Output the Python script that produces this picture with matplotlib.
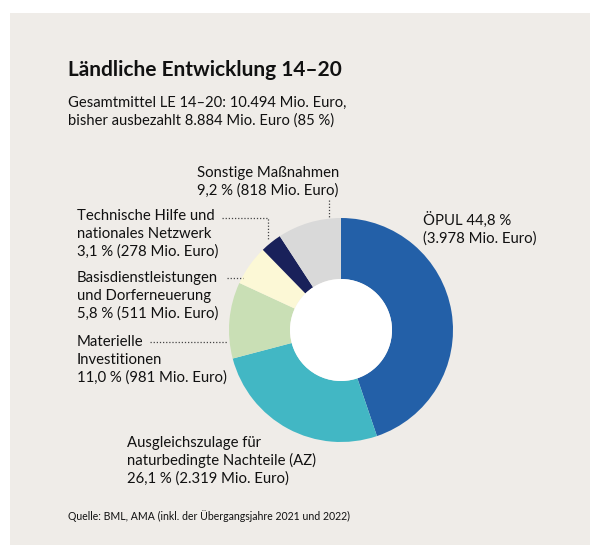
import matplotlib.pyplot as plt
from matplotlib.lines import Line2D
from matplotlib.patches import Rectangle

plt.rcParams['font.family'] = ['Lato', 'DejaVu Sans']

# data, clockwise from 12 o'clock
names = ['ÖPUL', 'Ausgleichszulage für naturbedingte Nachteile (AZ)', 'Materielle Investitionen',
         'Basisdienstleistungen und Dorferneuerung', 'Technische Hilfe und nationales Netzwerk',
         'Sonstige Maßnahmen']
shares = [44.8, 26.1, 11.0, 5.8, 3.1, 9.2]
mio_euro = ['3.978', '2.319', '981', '511', '278', '818']
colors = ['#2360a8', '#42b7c4', '#c9dfb5', '#fcf8d6', '#19215a', '#d9d9d9']

# label lines as they are broken in the original
label_lines = [
    ['ÖPUL 44,8 %', '(3.978 Mio. Euro)'],
    ['Ausgleichszulage für', 'naturbedingte Nachteile (AZ)', '26,1 % (2.319 Mio. Euro)'],
    ['Materielle', 'Investitionen', '11,0 % (981 Mio. Euro)'],
    ['Basisdienstleistungen', 'und Dorferneuerung', '5,8 % (511 Mio. Euro)'],
    ['Technische Hilfe und', 'nationales Netzwerk', '3,1 % (278 Mio. Euro)'],
    ['Sonstige Maßnahmen', '9,2 % (818 Mio. Euro)'],
]
# first-line baseline position (px)
label_pos = [(423, 225), (127, 447), (77, 346), (77, 282), (77, 220), (197, 177)]

W, H = 590, 545
fig = plt.figure(figsize=(W / 100, H / 100), dpi=100)
fig.patch.set_facecolor('white')


def fx(x):
    return x / W


def fy(y):
    return 1 - y / H


# beige panel
fig.add_artist(Rectangle((fx(10), 0), 1 - fx(10), fy(13), transform=fig.transFigure,
                         facecolor='#efece8', edgecolor='none', zorder=0))

fig.text(fx(68), fy(76), 'Ländliche Entwicklung 14–20', fontsize=15, fontweight='bold',
         color='#111111', va='baseline')
fig.text(fx(68), fy(107), 'Gesamtmittel LE 14–20: 10.494 Mio. Euro,', fontsize=10.6,
         color='#111111', va='baseline')
fig.text(fx(68), fy(125), 'bisher ausbezahlt 8.884 Mio. Euro (85 %)', fontsize=10.6,
         color='#111111', va='baseline')
fig.text(fx(68), fy(520), 'Quelle: BML, AMA (inkl. der Übergangsjahre 2021 und 2022)', fontsize=7.6,
         color='#111111', va='baseline')

# donut: center (341, 330), outer radius 112 px
cx, cy, r = 341, 330, 112
ax = fig.add_axes([fx(cx - r), fy(cy + r), 2 * r / W, 2 * r / H])
ax.pie(shares, colors=colors, startangle=90, counterclock=False, radius=1,
       wedgeprops=dict(width=1 - 51 / 112, edgecolor='none'))
ax.add_patch(plt.Circle((0, 0), 51 / 112, facecolor='white', edgecolor='none'))
ax.set_xlim(-1, 1)
ax.set_ylim(-1, 1)
ax.set_aspect('equal')
ax.axis('off')

for lines, (x, y) in zip(label_lines, label_pos):
    for i, line in enumerate(lines):
        fig.text(fx(x), fy(y + 18 * i), line, fontsize=10.7, color='#111111', va='baseline')

# dotted leader lines (px)
leaders = [
    [(222, 218), (268, 218), (268, 240)],
    [(227, 278), (243, 278)],
    [(150, 342), (227, 342)],
    [(329, 200), (329, 218)],
]
for pts in leaders:
    xs = [fx(p[0]) for p in pts]
    ys = [fy(p[1]) for p in pts]
    fig.add_artist(Line2D(xs, ys, transform=fig.transFigure, color='#444444', lw=0.9,
                          linestyle=(0, (1, 1.5))))

fig.savefig('out.png', dpi=100)
